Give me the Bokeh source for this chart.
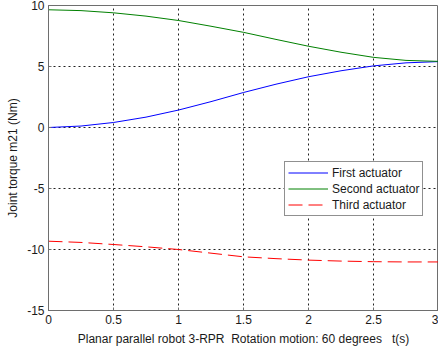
from bokeh.plotting import figure
from bokeh.models import FixedTicker, Legend, LegendItem, Range1d
from bokeh.embed import file_html
from bokeh.resources import INLINE

t = [0, 0.25, 0.5, 0.75, 1.0, 1.25, 1.5, 1.75, 2.0, 2.25, 2.5, 2.75, 3.0]
first_actuator = [0.0, 0.12, 0.41, 0.85, 1.43, 2.12, 2.87, 3.55, 4.16, 4.65, 5.05, 5.30, 5.40]
second_actuator = [9.65, 9.58, 9.40, 9.13, 8.77, 8.30, 7.80, 7.22, 6.66, 6.17, 5.75, 5.50, 5.42]
third_actuator = [-9.32, -9.42, -9.59, -9.78, -10.0, -10.30, -10.60, -10.75, -10.87, -10.95, -11.00, -11.02, -11.02]

x_ticks = [0, 0.5, 1, 1.5, 2, 2.5, 3]
x_tick_labels = ["0", "0.5", "1", "1.5", "2", "2.5", "3"]
y_ticks = [-15, -10, -5, 0, 5, 10]
y_tick_labels = ["-15", "-10", "-5", "0", "5", "10"]

x_label = "Planar parallel robot 3-RPR \u00a0Rotation motion: 60 degrees \u00a0\u00a0t(s)"
y_label = "Joint torque m21 (Nm)"

FONT = "Liberation Sans"
FS = "12px"

p = figure(width=438, height=348, output_backend="svg", toolbar_location=None,
           x_range=Range1d(0, 3), y_range=Range1d(-15, 10),
           min_border_left=48, min_border_top=5, min_border_right=0, min_border_bottom=38,
           background_fill_color="white", border_fill_color="white")
p.styles = {"position": "absolute", "left": "0px", "top": "0px"}

p.outline_line_color = "#6e6e6e"
p.outline_line_width = 1

for ax, ticks, labels in ((p.xaxis[0], x_ticks, x_tick_labels), (p.yaxis[0], y_ticks, y_tick_labels)):
    ax.ticker = FixedTicker(ticks=ticks)
    ax.major_label_overrides = {tk: lb for tk, lb in zip(ticks, labels)}
    ax.axis_line_color = "#6e6e6e"
    ax.major_tick_line_color = "#6e6e6e"
    ax.major_tick_in = 3
    ax.major_tick_out = 0
    ax.minor_tick_line_color = None
    ax.major_label_text_font = FONT
    ax.major_label_text_font_size = FS
    ax.major_label_text_color = "#1a1a1a"
    ax.axis_label_text_font = FONT
    ax.axis_label_text_font_size = FS
    ax.axis_label_text_font_style = "normal"
    ax.axis_label_text_color = "#1a1a1a"

p.xaxis.axis_label = x_label
p.yaxis.axis_label = y_label
p.xaxis.major_label_standoff = 4
p.xaxis.axis_label_standoff = 5
p.yaxis.major_label_standoff = 4
p.yaxis.axis_label_standoff = 4

p.xgrid.ticker = FixedTicker(ticks=x_ticks)
p.ygrid.ticker = FixedTicker(ticks=y_ticks)
p.grid.grid_line_color = "#222222"
p.grid.grid_line_dash = "2 3"
p.grid.grid_line_width = 1

r1 = p.line(t, first_actuator, line_color="#0000ff", line_width=1)
r2 = p.line(t, second_actuator, line_color="#008000", line_width=1)
r3 = p.line(t, third_actuator, line_color="#ff0000", line_width=1, line_dash="14 6")

legend = Legend(items=[LegendItem(label="First actuator", renderers=[r1]),
                       LegendItem(label="Second actuator", renderers=[r2]),
                       LegendItem(label="Third actuator", renderers=[r3])],
                location=(236, 94))
legend.label_text_font = FONT
legend.label_text_font_size = FS
legend.label_text_color = "#1a1a1a"
legend.border_line_color = "#222222"
legend.border_line_width = 1
legend.background_fill_color = "white"
legend.background_fill_alpha = 1
legend.padding = 3
legend.spacing = 1
legend.margin = 0
legend.glyph_width = 40
legend.glyph_height = 15
legend.label_height = 15
legend.label_standoff = 4
p.add_layout(legend, "center")

open("out.html", "w").write(file_html(p, INLINE))
